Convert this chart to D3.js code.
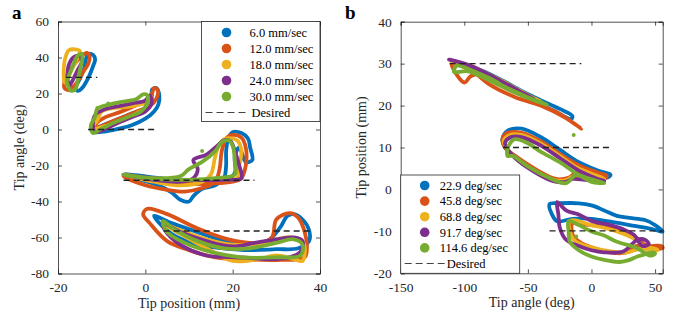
<!DOCTYPE html>
<html>
<head>
<meta charset="utf-8">
<script src="https://cdn.jsdelivr.net/npm/d3@7"></script>
<style>
  body { margin: 0; background: #fff; }
  svg { display: block; }
  svg text { font-family: "Liberation Serif", "DejaVu Serif", serif; }
  .tick-label { font-size: 13.5px; fill: #262626; }
  .axis-label { font-size: 14px; fill: #262626; }
  .legend-text { font-size: 12.5px; fill: #000; }
  .panel-letter { font-size: 19px; font-weight: bold; }
</style>
</head>
<body>
<svg id="chart" width="681" height="325"></svg>
<script>
// series colours (MATLAB default order)
const palette = ["#0072BD", "#D95319", "#EDB120", "#7E2F8E", "#77AC30"];

// ---- panel a : tip angle vs tip position, per traverse speed ----
const speedsA = ["6.0 mm/sec", "12.0 mm/sec", "18.0 mm/sec", "24.0 mm/sec", "30.0 mm/sec"];
const xTicksA = [-20, 0, 20, 40];
const yTicksA = [-80, -60, -40, -20, 0, 20, 40, 60];
// desired segments: [xStart, xEnd, angle]
const desiredA = [[-18.2, -11, 29], [-13.1, 2.3, 0], [-5, 25, -28.2], [4.2, 38, -56.4]];

const a6 = [
  [[-15.5, 21.5], [-14.5, 23], [-13, 29], [-12, 35], [-11.5, 39], [-12, 41.5], [-13, 42], [-13.5, 40], [-14, 34], [-15, 28], [-16, 23]],
  [[-12, -1.5], [-9, -1], [-6, 0.5], [-3, 2.5], [0, 6], [2, 10], [3, 14], [3.2, 19], [2.5, 23], [1.5, 22], [1.5, 17], [0, 12], [-3, 9], [-6, 6], [-9, 3], [-11, 1]],
  [[-5, -25], [-1, -28], [3, -31], [6, -35], [8, -39], [10, -40], [11, -37], [13, -33], [16, -31], [18, -27], [18.5, -20], [18.5, -12], [19, -5], [20, -1.5], [22, -2], [23.5, -5], [24, -10], [24.5, -17], [23, -18], [21.5, -10], [20.5, -15], [20.5, -24], [18, -29], [12, -30], [6, -28], [0, -26]],
  [[2, -48], [6, -52], [12, -57], [18, -62], [24, -64], [28, -62], [31, -54], [32.5, -48], [34, -47], [36, -50], [37.5, -56], [37.5, -62], [35, -66], [30, -66.5], [24, -67], [18, -66], [12, -64], [6, -58]]
];
const a12 = [
  [[-18.5, 23], [-17.5, 22], [-16, 25], [-14.5, 31], [-13, 37], [-12.8, 41], [-13.5, 42.5], [-14.5, 41], [-16, 37], [-17.5, 32], [-18.5, 27]],
  [[-12, 0], [-11, 4], [-9, 7], [-6, 9.5], [-3, 12.5], [0, 16], [1.5, 20], [2, 23], [2.8, 22], [2.5, 17], [1, 13], [-2, 10], [-5, 7], [-8, 4], [-11, 1]],
  [[-5, -26], [0, -31], [5, -33.5], [9, -34.5], [13, -32.5], [16, -29], [17, -22], [17.5, -12], [18.5, -5], [20, -3], [22, -4.5], [23, -10], [23, -20], [22, -27], [20, -29], [15, -30], [8, -30], [2, -28]],
  [[0.5, -44], [5, -47], [12, -55], [19, -61], [26, -63], [29, -60], [30, -50], [33, -46.5], [35, -49], [36.5, -57], [37, -66], [36.5, -71], [30, -72.5], [22, -72], [16, -71], [10, -67], [5, -62], [1, -52], [-0.5, -47]]
];
const a18 = [
  [[-18.5, 26], [-18.7, 32], [-18.3, 40], [-17.5, 44], [-16, 44.5], [-15, 43.5], [-15.5, 40], [-16.5, 35], [-17.5, 30]],
  [[-12.5, 0], [-11, 5], [-10, 10], [-7, 12], [-3, 13], [0, 15], [1.5, 18], [1, 13], [-2, 9], [-5, 5], [-9, 2]],
  [[-5, -25], [2, -29], [8, -31], [13, -29], [15, -25], [16, -15], [17, -8], [18.5, -5], [21, -6], [22, -12], [21.5, -20], [21, -27], [15, -28], [8, -28], [0, -27]],
  [[4, -52], [8, -58], [14, -66], [20, -73], [26, -72], [30, -70], [34, -72], [36, -73], [36.5, -65], [36, -62], [33, -60], [30, -61], [27, -63], [20, -64], [14, -61], [8, -56]]
];
const a24 = [
  [[-17.5, 24], [-16.5, 28], [-15.5, 33], [-14.5, 38], [-15, 41], [-16.5, 40], [-17.5, 36], [-17.8, 30]],
  [[-11.5, -1.5], [-12, 3], [-11.5, 8], [-9, 11.5], [-6, 13], [-3, 14.5], [0, 16], [1, 19], [1.5, 15], [0, 10], [-3, 7], [-6, 4], [-9, 0.5]],
  [[-5, -25], [2, -28], [8, -29], [11, -27], [12, -22], [11, -17], [14, -14], [16.5, -9], [18, -6], [19.5, -6.5], [20.5, -12], [21.5, -20], [22, -27], [18, -28], [10, -28], [2, -27]],
  [[4, -52], [8, -57], [14, -62], [20, -65], [25, -63], [30, -61], [34, -60], [36, -62], [35.5, -68], [33, -71], [28, -72], [22, -71], [14, -70], [8, -64], [4.5, -56]]
];
const a30 = [
  [[-17, 21.5], [-16, 22.5], [-15.5, 27], [-15, 33], [-14.5, 38], [-14.5, 42], [-15.5, 41], [-16.5, 36], [-17.5, 30], [-18, 27], [-17.5, 23]],
  [[-12, -2], [-12.5, 2], [-11.5, 7], [-11, 11.5], [-8, 14], [-5, 15.5], [-2, 17], [-0.5, 19.5], [0.5, 19], [0.3, 14], [-1, 10], [-4, 7], [-7, 4], [-10, 0.5]],
  [[-5, -25], [2, -27], [8, -26], [10, -22], [13, -18], [16, -12], [17.5, -7], [19, -6], [20, -9], [20.5, -18], [20.5, -25], [16, -27], [8, -28], [0, -27]],
  [[4, -51], [7, -56], [12, -62], [18, -66], [24, -66], [30, -63], [34, -61], [36, -64], [35.5, -70], [30, -71], [22, -71], [15, -68], [9, -63], [5, -57]]
];
const strayA = [[13, -12, 4], [-11, 12, 4], [-8.5, 14.5, 4]]; // isolated samples [position, angle, series]

// ---- panel b : tip position vs tip angle, per rotation speed ----
const speedsB = ["22.9 deg/sec", "45.8 deg/sec", "68.8 deg/sec", "91.7 deg/sec", "114.6 deg/sec"];
const xTicksB = [-150, -100, -50, 0, 50];
const yTicksB = [-20, -10, 0, 10, 20, 30, 40];
const desiredB = [[-111.5, -8, 30], [-69.6, 16.7, 10], [-33, 56, -9.9]];

const b229 = [
  [[-110, 30.5], [-100, 29.8], [-85, 28.2], [-70, 26], [-55, 23.5], [-40, 21.3], [-25, 19.2], [-15, 17.5], [-16, 16.8], [-28, 18.5], [-45, 21], [-60, 23.5], [-80, 27], [-100, 29.3]],
  [[-70, 12], [-66, 14], [-55, 14.5], [-40, 12.5], [-25, 9.5], [-10, 6.5], [5, 4.5], [15, 3.5], [12, 2.8], [0, 3.2], [-12, 4], [-18, 2.5], [-28, 2], [-45, 4.5], [-60, 7.5], [-68, 10]],
  [[-33, -3.5], [-25, -3.3], [-10, -3.3], [0, -3.8], [10, -5], [20, -6.3], [30, -6.8], [42, -7.3], [50, -8.5], [56, -10], [45, -9.3], [30, -8.5], [15, -7.7], [0, -7], [-15, -7], [-27, -7.6], [-31, -6]]
];
const b458 = [
  [[-100, 25.5], [-95, 27], [-88, 27.5], [-75, 26], [-60, 23.5], [-45, 21.5], [-35, 19.5], [-25, 18], [-15, 16], [-8, 14.5], [-20, 17], [-40, 20], [-60, 22], [-80, 25], [-95, 28.5], [-110, 30]],
  [[-70, 12], [-66, 13.5], [-55, 13.5], [-40, 11.5], [-25, 8.5], [-10, 5.8], [5, 4], [12, 3.2], [10, 2.5], [-2, 3], [-10, 4.3], [-18, 2.8], [-28, 2.5], [-45, 5], [-60, 8], [-68, 10]],
  [[-15, -8], [-14.5, -11], [-8, -12.8], [0, -13.8], [10, -14.7], [20, -15.2], [28, -15], [35, -13.5], [45, -13.5], [55, -13.5], [56, -14], [45, -13.8], [30, -10.3], [15, -9], [0, -8.5], [-10, -8.3]]
];
const b688 = [
  [[-110, 30.5], [-95, 29.5], [-80, 27], [-65, 25], [-50, 22.5], [-40, 21], [-52, 22.8], [-70, 25.8], [-90, 28.7]],
  [[-69, 11.5], [-64, 13], [-55, 13], [-40, 11], [-25, 8], [-10, 5], [5, 3.2], [10, 2.5], [-5, 2.8], [-15, 3], [-20, 2.2], [-30, 2.3], [-45, 4.5], [-60, 7.5]],
  [[-17, -7.5], [-16, -11], [-12, -12.5], [0, -13.8], [15, -14.8], [28, -15], [34, -14.5], [40, -14], [48, -14], [52, -14.5], [45, -14.6], [35, -12], [20, -10], [0, -8.5]]
];
const b917 = [
  [[-112, 31], [-100, 30], [-85, 28], [-70, 25.5], [-55, 23], [-45, 21.5], [-57, 23.5], [-75, 26.5], [-95, 29.5]],
  [[-68, 11], [-63, 12.5], [-55, 12.5], [-40, 10.5], [-25, 7.5], [-10, 4.5], [5, 2.5], [10, 2], [-5, 2.3], [-15, 2.5], [-20, 1.8], [-30, 2], [-45, 4.2], [-60, 7.5]],
  [[-27, -3], [-26, -6], [-25, -9], [-20, -12], [-10, -13.5], [0, -14.5], [10, -15], [25, -14.8], [32, -13], [36, -12], [42, -12], [45, -13], [40, -13.5], [34, -11], [25, -9.5], [15, -8.5], [0, -7.5], [-10, -6], [-20, -5]]
];
const b1146 = [
  [[-108, 28], [-106, 29.5], [-95, 28.5], [-80, 26.5], [-65, 24], [-50, 22], [-35, 20.2], [-48, 21.6], [-64, 23.6], [-82, 26.3], [-98, 28.2]],
  [[-66, 8], [-65, 10.5], [-60, 12], [-50, 11], [-40, 9], [-25, 6.5], [-10, 3.5], [5, 2], [10, 1.5], [0, 1.8], [-12, 3.5], [-20, 1.5], [-35, 3], [-50, 5.5], [-62, 8]],
  [[-18, -7.5], [-18, -10], [-17, -12.5], [-10, -14.5], [0, -16], [10, -16.8], [22, -17.3], [30, -16.8], [36, -16], [42, -15.5], [48, -15], [50, -15.3], [46, -15.8], [36, -14], [20, -12.5], [10, -11], [0, -10], [-10, -8.5]]
];
const strayB = [[-14, 13, 4], [-12, -11.2, 4]]; // isolated samples [angle, position, series]

const svg = d3.select("#chart");
const ink = "#262626";

function drawPanel(opt) {
  const x = d3.scaleLinear().domain(opt.xDomain).range([opt.left, opt.right]);
  const y = d3.scaleLinear().domain(opt.yDomain).range([opt.bottom, opt.top]);
  const g = svg.append("g");

  const line = d3.line()
    .x((d) => x(d[0]))
    .y((d) => y(d[1]))
    .curve(d3.curveCatmullRomClosed.alpha(0.5));

  opt.series.forEach((clusters, i) => {
    clusters.forEach((pts) => {
      g.append("path")
        .datum(pts)
        .attr("d", line)
        .attr("fill", "none")
        .attr("stroke", palette[i])
        .attr("stroke-width", 3.8)
        .attr("stroke-linejoin", "round");
    });
  });

  (opt.stray || []).forEach((s) => {
    g.append("circle").attr("cx", x(s[0])).attr("cy", y(s[1])).attr("r", 2).attr("fill", palette[s[2]]);
  });

  // desired targets
  opt.desired.forEach((d) => {
    g.append("line")
      .attr("x1", x(d[0])).attr("x2", x(d[1]))
      .attr("y1", y(d[2])).attr("y2", y(d[2]))
      .attr("stroke", "#222").attr("stroke-width", 1.3)
      .attr("stroke-dasharray", "6,4");
  });

  // box with inward ticks on all four sides
  const axB = g.append("g").attr("transform", `translate(0,${opt.bottom})`)
    .call(d3.axisBottom(x).tickValues(opt.xTicks).tickSize(-4).tickPadding(9));
  const axT = g.append("g").attr("transform", `translate(0,${opt.top})`)
    .call(d3.axisTop(x).tickValues(opt.xTicks).tickSize(-4).tickFormat(""));
  const axL = g.append("g").attr("transform", `translate(${opt.left},0)`)
    .call(d3.axisLeft(y).tickValues(opt.yTicks).tickSize(-4).tickPadding(9));
  const axR = g.append("g").attr("transform", `translate(${opt.right},0)`)
    .call(d3.axisRight(y).tickValues(opt.yTicks).tickSize(-4).tickFormat(""));
  [axB, axT, axL, axR].forEach((a) => {
    a.attr("font-family", null).attr("font-size", null);
    a.select(".domain").attr("stroke", ink).attr("stroke-width", 0.8);
    a.selectAll(".tick line").attr("stroke", ink).attr("stroke-width", 0.8);
    a.selectAll(".tick text").attr("class", "tick-label");
  });
  axB.selectAll(".tick text").text((d) => d3.format("d")(d).replace("−", "-"));
  axL.selectAll(".tick text").text((d) => d3.format("d")(d).replace("−", "-"));

  g.append("text").attr("class", "axis-label")
    .attr("x", (opt.left + opt.right) / 2).attr("y", opt.bottom + 34)
    .attr("text-anchor", "middle").text(opt.xLabel);
  g.append("text").attr("class", "axis-label")
    .attr("transform", `translate(${opt.yLabelX},${(opt.top + opt.bottom) / 2}) rotate(-90)`)
    .attr("text-anchor", "middle").text(opt.yLabel);
  g.append("text").attr("class", "panel-letter")
    .attr("x", opt.letterX).attr("y", 19).text(opt.letter);

  // legend
  const L = opt.legend;
  g.append("rect")
    .attr("x", L.x).attr("y", L.y).attr("width", L.w).attr("height", L.h)
    .attr("fill", "#fff").attr("stroke", ink).attr("stroke-width", 0.8);
  opt.names.forEach((name, i) => {
    const cy = L.y + L.first + i * L.step;
    g.append("circle").attr("cx", L.x + L.mark).attr("cy", cy).attr("r", 4.8).attr("fill", palette[i]);
    g.append("text").attr("class", "legend-text")
      .attr("x", L.x + L.text).attr("y", cy + 4.3).text(name);
  });
  const dy = L.y + L.first + 5 * L.step;
  g.append("line")
    .attr("x1", L.x + L.dash[0]).attr("x2", L.x + L.dash[1])
    .attr("y1", dy).attr("y2", dy)
    .attr("stroke", "#444").attr("stroke-width", 1.2).attr("stroke-dasharray", "7,4");
  g.append("text").attr("class", "legend-text")
    .attr("x", L.x + L.dashText).attr("y", dy + 4.3).text("Desired");
}

drawPanel({
  letter: "a", letterX: 12,
  left: 58, right: 320, top: 21.5, bottom: 273.5,
  xDomain: [-20, 40], yDomain: [-80, 60],
  xTicks: xTicksA, yTicks: yTicksA,
  xLabel: "Tip position (mm)", yLabel: "Tip angle (deg)", yLabelX: 24,
  series: [a6, a12, a18, a24, a30],
  stray: strayA,
  desired: desiredA,
  names: speedsA,
  legend: { x: 201.5, y: 21.5, w: 118.5, h: 100, first: 11, step: 16, mark: 25, text: 48, dash: [4, 45], dashText: 50 }
});

drawPanel({
  letter: "b", letterX: 345,
  left: 400.7, right: 662.7, top: 21.7, bottom: 273.3,
  xDomain: [-150, 56], yDomain: [-20, 40],
  xTicks: xTicksB, yTicks: yTicksB,
  xLabel: "Tip angle (deg)", yLabel: "Tip position (mm)", yLabelX: 366,
  series: [b229, b458, b688, b917, b1146],
  stray: strayB,
  desired: desiredB,
  names: speedsB,
  legend: { x: 400.7, y: 175, w: 119, h: 98.3, first: 10.5, step: 15.6, mark: 24, text: 39, dash: [4, 45], dashText: 46 }
});
</script>
</body>
</html>
